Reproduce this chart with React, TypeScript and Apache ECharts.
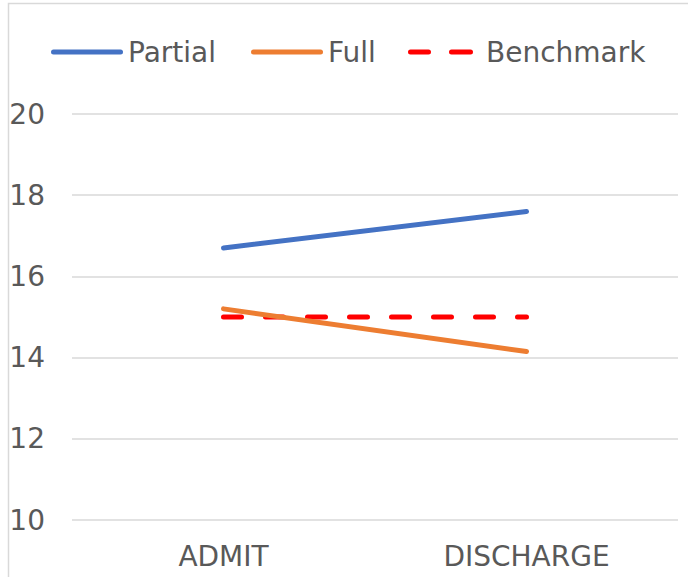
import React, { useEffect, useRef } from "react";
import * as echarts from "echarts";

const categories = ["ADMIT", "DISCHARGE"];
const partial = [16.7, 17.6];
const full = [15.2, 14.15];
const benchmark = [15, 15];
const yTicks = { min: 10, max: 20, interval: 2 };

const FONT = "'DejaVu Sans', sans-serif";
const TEXT = "#595959";
const BLUE = "#4472C4";
const ORANGE = "#ED7D31";
const RED = "#FF0000";

const solidIcon =
  "path://M2.5,0h67a2.5,2.5 0 0 1 0,5h-67a2.5,2.5 0 0 1 0,-5z";
const dashIcon =
  "path://M2.5,0h18a2.5,2.5 0 0 1 0,5h-18a2.5,2.5 0 0 1 0,-5z M43.5,0h19a2.5,2.5 0 0 1 0,5h-19a2.5,2.5 0 0 1 0,-5z";

function legendFor(name: string, left: number, icon: string, color: string, width: number, pad: number) {
  return {
    top: 38,
    left,
    itemWidth: width,
    itemHeight: 5,
    padding: 0,
    selectedMode: false,
    textStyle: { color: TEXT, fontSize: 28, fontFamily: FONT, padding: [0, 0, 0, pad] },
    data: [{ name, icon, itemStyle: { color, borderWidth: 0 } }],
  };
}

export default function App() {
  const ref = useRef<HTMLDivElement>(null);
  useEffect(() => {
    if (!ref.current) return;
    const chart = echarts.init(ref.current, undefined, { renderer: "svg" });
    chart.setOption({
      animation: false,
      backgroundColor: "#ffffff",
      textStyle: { fontFamily: FONT },
      graphic: [
        {
          type: "rect",
          shape: { x: 8.5, y: 3.5, width: 720, height: 620 },
          style: { fill: "none", stroke: "#D9D9D9", lineWidth: 1.5 },
          silent: true,
        },
      ],
      legend: [
        legendFor("Partial", 51, solidIcon, BLUE, 72, 0),
        legendFor("Full", 251, solidIcon, ORANGE, 72, 0),
        legendFor("Benchmark", 408, dashIcon, RED, 65, 8),
      ],
      grid: { left: 72, right: 10, top: 114, bottom: 57, containLabel: false },
      xAxis: {
        type: "category",
        data: categories,
        boundaryGap: true,
        axisLine: { show: false },
        axisTick: { show: false },
        axisLabel: { color: TEXT, fontSize: 28, fontFamily: FONT, margin: 22 },
      },
      yAxis: {
        type: "value",
        min: yTicks.min,
        max: yTicks.max,
        interval: yTicks.interval,
        axisLine: { show: false },
        axisTick: { show: false },
        splitLine: { lineStyle: { color: "#D9D9D9", width: 1.5 } },
        axisLabel: { color: TEXT, fontSize: 28, fontFamily: FONT, margin: 27 },
      },
      series: [
        {
          name: "Partial",
          type: "line",
          data: partial,
          symbol: "none",
          color: BLUE,
          lineStyle: { color: BLUE, width: 5, cap: "round" },
        },
        {
          name: "Full",
          type: "line",
          data: full,
          symbol: "none",
          color: ORANGE,
          lineStyle: { color: ORANGE, width: 5, cap: "round" },
        },
        {
          name: "Benchmark",
          type: "line",
          data: benchmark,
          symbol: "none",
          color: RED,
          z: 1,
          lineStyle: { color: RED, width: 5, type: [18, 24], cap: "round" },
        },
      ],
    });
    return () => chart.dispose();
  }, []);
  return (
    <div
      ref={ref}
      style={{ position: "absolute", left: 0, top: 0, width: 688, height: 577 }}
    />
  );
}
